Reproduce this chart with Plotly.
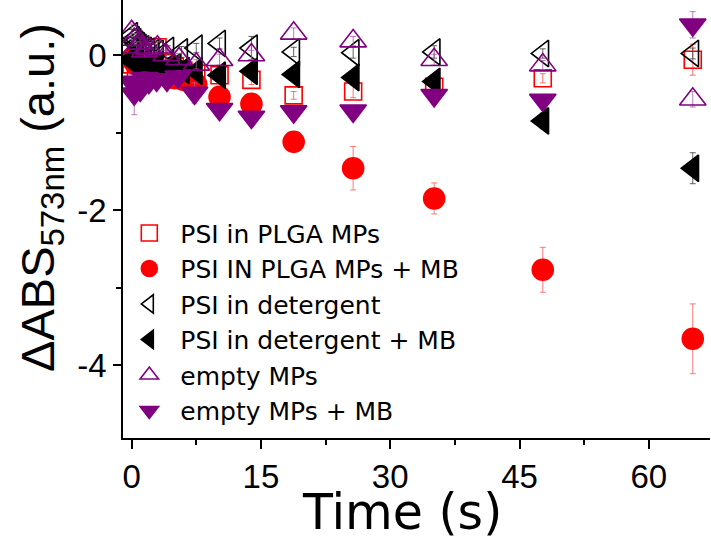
import plotly.graph_objects as go

# ---- data ----
t_sq = [0.0, 0.5, 1.0, 1.5, 2.0, 3.0, 4.0, 5.0, 6.0, 7.5, 10.2, 13.9, 18.8, 25.7, 35.1, 47.7, 65.1]
y_sq = [-0.12, -0.18, -0.08, -0.15, -0.05, 0.10, -0.10, -0.15, -0.20, -0.24, -0.26, -0.32, -0.52, -0.47, -0.41, -0.30, -0.06]
e_sq = [0.06, 0.06, 0.05, 0.06, 0.05, 0.06, 0.05, 0.06, 0.05, 0.06, 0.05, 0.06, 0.05, 0.08, 0.05, 0.06, 0.20]

t_ci = [0.0, 0.5, 1.0, 1.5, 2.0, 3.0, 4.0, 5.0, 6.0, 7.5, 10.2, 13.9, 18.8, 25.7, 35.1, 47.7, 65.1]
y_ci = [-0.05, -0.12, -0.15, -0.20, -0.18, -0.22, -0.25, -0.30, -0.32, -0.38, -0.54, -0.63, -1.12, -1.46, -1.85, -2.77, -3.66]
e_ci = [0.05, 0.05, 0.06, 0.05, 0.06, 0.05, 0.06, 0.05, 0.06, 0.05, 0.06, 0.06, 0.06, 0.28, 0.20, 0.29, 0.45]

t_ol = [0.0, 0.2, 0.4, 0.6, 0.8, 1.0, 1.3, 1.6, 2.0, 2.5, 3.0, 4.2, 5.8, 7.5, 10.2, 13.9, 18.8, 25.7, 35.1, 47.7, 65.1]
y_ol = [0.25, 0.20, 0.17, 0.14, 0.12, 0.10, 0.08, 0.06, 0.05, 0.03, 0.02, 0.06, 0.04, 0.09, 0.15, 0.09, 0.04, 0.03, 0.04, 0.02, 0.02]
e_ol = [0.08, 0.07, 0.06, 0.08, 0.07, 0.06, 0.07, 0.06, 0.07, 0.06, 0.07, 0.06, 0.07, 0.06, 0.07, 0.15, 0.06, 0.07, 0.08, 0.06, 0.07]

t_fl = [0.0, 0.3, 0.6, 1.0, 1.5, 2.0, 3.0, 4.0, 5.0, 6.0, 7.5, 10.2, 13.9, 18.8, 25.7, 35.1, 47.7, 65.1]
y_fl = [-0.05, -0.10, -0.08, -0.12, -0.10, -0.15, -0.12, -0.18, -0.15, -0.20, -0.21, -0.26, -0.21, -0.25, -0.29, -0.34, -0.85, -1.46]
e_fl = [0.05, 0.06, 0.05, 0.06, 0.05, 0.06, 0.05, 0.06, 0.05, 0.06, 0.05, 0.06, 0.05, 0.06, 0.05, 0.06, 0.10, 0.20]

t_ou = [0.0, 0.3, 0.6, 1.0, 1.5, 2.0, 3.0, 4.0, 5.5, 7.5, 10.2, 13.9, 18.8, 25.7, 35.1, 47.7, 65.1]
y_ou = [0.30, 0.20, 0.10, 0.15, 0.05, 0.08, 0.10, 0.00, -0.05, -0.12, -0.06, 0.00, 0.28, 0.18, -0.06, -0.13, -0.57]
e_ou = [0.10, 0.08, 0.07, 0.08, 0.07, 0.08, 0.07, 0.06, 0.07, 0.06, 0.07, 0.06, 0.07, 0.06, 0.07, 0.06, 0.10]

t_fd = [0.0, 0.3, 0.6, 1.0, 1.5, 2.0, 2.9, 4.1, 5.4, 7.3, 10.2, 13.9, 18.8, 25.7, 35.1, 47.7, 65.1]
y_fd = [-0.35, -0.50, -0.40, -0.45, -0.30, -0.35, -0.32, -0.32, -0.28, -0.49, -0.70, -0.80, -0.73, -0.72, -0.52, -0.58, 0.39]
e_fd = [0.10, 0.27, 0.08, 0.10, 0.08, 0.07, 0.08, 0.07, 0.08, 0.13, 0.07, 0.06, 0.07, 0.06, 0.07, 0.06, 0.17]

names = ["PSI in PLGA MPs", "PSI IN PLGA MPs + MB", "PSI in detergent",
         "PSI in detergent + MB", "empty MPs", "empty MPs + MB"]

x_ticks = [0, 15, 30, 45, 60]
y_ticks = [0, -2, -4]
y_ticktext = ["0", "-2", "-4"]

RED = "#FF0000"
PURPLE = "#800080"
BLACK = "#000000"
FONT = "Liberation Sans, Arial, sans-serif"
WIDE = "DejaVu Sans, Liberation Sans, sans-serif"

series = [
    (t_sq, y_sq, e_sq, "square-open", RED, 17, "rgba(255,80,80,0.8)"),
    (t_ci, y_ci, e_ci, "circle", RED, 21, "rgba(255,90,90,0.8)"),
    (t_ol, y_ol, e_ol, "triangle-left-open", BLACK, 23, "rgba(60,60,60,0.8)"),
    (t_fl, y_fl, e_fl, "triangle-left", BLACK, 23, "rgba(60,60,60,0.8)"),
    (t_ou, y_ou, e_ou, "triangle-up-open", PURPLE, 23, "rgba(170,90,170,0.8)"),
    (t_fd, y_fd, e_fd, "triangle-down", PURPLE, 23, "rgba(170,90,170,0.8)"),
]

fig = go.Figure()
for (tx, yy, ee, sym, col, sz, ecol), nm in zip(series, names):
    fig.add_trace(go.Scatter(
        x=tx, y=yy, mode="markers", name=nm,
        marker=dict(symbol=sym, size=sz, color=col, line=dict(color=col, width=1.6)),
        error_y=dict(type="data", array=ee, visible=True, color=ecol, thickness=1, width=3),
    ))

fig.update_layout(
    width=711, height=542,
    margin=dict(l=123, r=1, t=0, b=104, autoexpand=False),
    paper_bgcolor="white", plot_bgcolor="white",
    font=dict(family=FONT, color="black"),
    showlegend=True,
    legend=dict(x=-0.008, y=0.52, xanchor="left", yanchor="top",
                bgcolor="rgba(0,0,0,0)", font=dict(size=25, family=WIDE),
                itemwidth=52, tracegroupgap=0),
    xaxis=dict(range=[-1, 67.1], tickvals=x_ticks,
               ticks="outside", ticklen=9, tickwidth=1.5, tickcolor="black",
               showline=True, linecolor="black", linewidth=1.5,
               showgrid=False, zeroline=False, automargin=False,
               tickfont=dict(size=33, family=FONT),
               minor=dict(ticks="outside", ticklen=5, tickwidth=1.5, tickcolor="black",
                          tick0=0, dtick=7.5, showgrid=False)),
    yaxis=dict(range=[-4.94, 0.71], tickvals=y_ticks, ticktext=y_ticktext,
               ticks="outside", ticklen=8, tickwidth=1.5, tickcolor="black",
               showline=True, linecolor="black", linewidth=1.5,
               showgrid=False, zeroline=False, automargin=False,
               tickfont=dict(size=33, family=FONT),
               minor=dict(ticks="outside", ticklen=5, tickwidth=1.5, tickcolor="black",
                          tick0=0, dtick=1, showgrid=False)),
    annotations=[
        dict(text="Time (s)", xref="paper", yref="paper", x=0.475, y=-0.17,
             xanchor="center", yanchor="middle", showarrow=False,
             font=dict(size=49, family=WIDE, color="black")),
        dict(text="ΔABS<sub>573nm</sub> (a.u.)", xref="paper", yref="paper",
             x=-0.14, y=0.55, xanchor="center", yanchor="middle", textangle=-90,
             showarrow=False, font=dict(size=47, family=FONT, color="black")),
    ],
)

fig.write_html("out.html", config={"displayModeBar": False},
               post_script="document.body.style.margin='0';")
